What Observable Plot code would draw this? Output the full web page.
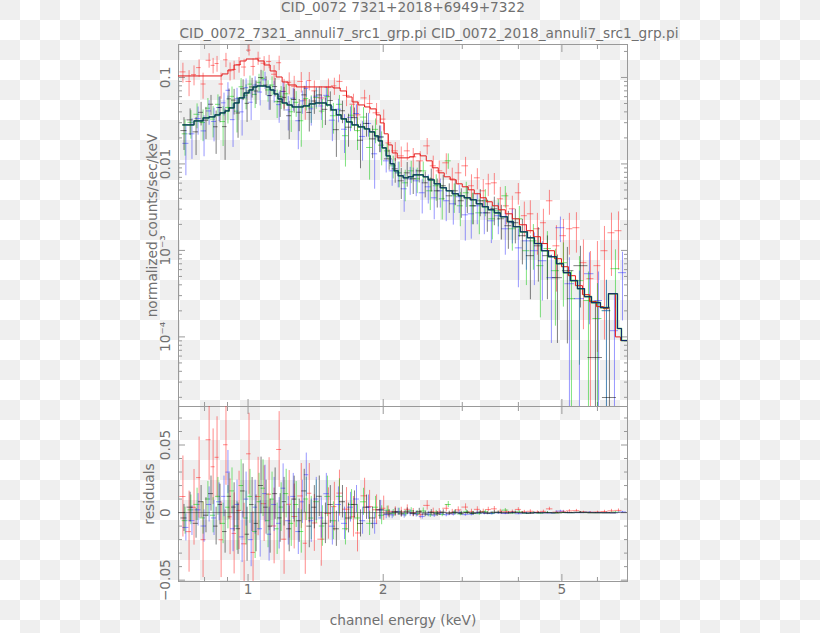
<!DOCTYPE html>
<html><head><meta charset="utf-8">
<script src="https://cdn.jsdelivr.net/npm/d3@7"></script>
<script src="https://cdn.jsdelivr.net/npm/@observablehq/plot@0.6"></script>
<style>
html,body{margin:0;padding:0;}
body{width:820px;height:633px;overflow:hidden;background:repeating-conic-gradient(#ffffff 0% 25%, #efefef 0% 50%) 0 0/40px 40px;}
#wrap{position:relative;width:820px;height:633px;}
#wrap svg{position:absolute;left:0;top:0;}
</style></head><body><div id="wrap"></div>
<script>
// ---------------- titles / labels ----------------
const title1 = "CID_0072 7321+2018+6949+7322";
const title2 = "CID_0072_7321_annuli7_src1_grp.pi CID_0072_2018_annuli7_src1_grp.pi";
const yLabelTop = "normalized counts/sec/keV";
const yLabelBottom = "residuals";
const xLabel = "channel energy (keV)";

// ---------------- axis ticks ----------------
const X_DOMAIN = [0.7, 7.0];
const Y_DOMAIN = [1.567e-5, 0.2405];
const R_DOMAIN = [-0.051, 0.0785];
const xMajor = [1, 2, 5];
const xMajorLabels = ["1", "2", "5"];
const xMinor = [0.8, 0.9, 3, 4, 6];
const yMajor = [1e-4, 1e-3, 0.01, 0.1];
const yMajorLabels = ["10\u207B\u2074", "10\u207B\u00B3", "0.01", "0.1"];
const yMinor = [2e-5,3e-5,4e-5,5e-5,6e-5,7e-5,8e-5,9e-5,
  2e-4,3e-4,4e-4,5e-4,6e-4,7e-4,8e-4,9e-4,
  2e-3,3e-3,4e-3,5e-3,6e-3,7e-3,8e-3,9e-3,
  0.02,0.03,0.04,0.05,0.06,0.07,0.08,0.09,0.2];
const rMajor = [-0.05, 0, 0.05];
const rMajorLabels = ["\u22120.05", "0", "0.05"];
const rMinor = [-0.04,-0.03,-0.02,-0.01,0.01,0.02,0.03,0.04,0.06,0.07];

// ---------------- models (step, bin start energies) ----------------
const redModelE = [0.699,0.875,0.902,0.931,0.960,0.990,1.053,1.086,1.120,1.155,1.191,1.228,1.280,1.547,1.604,1.657,1.705,1.759,1.818,1.871,1.929,1.970,2.010,2.052,2.095,2.149,2.286,2.345,2.418,2.494,2.572,2.652,2.735,2.820,2.909,3.000,3.094,3.190,3.290,3.393,3.499,3.609,3.741,3.878,4.021,4.168,4.320,4.479,4.643,4.813,4.989,5.170,5.360,5.556,5.759,5.970,6.188,6.350,6.580,6.752,7.0];
const redModelV = [0.1041,0.1098,0.1221,0.1394,0.1551,0.1635,0.1551,0.1394,0.1189,0.1013,0.0887,0.0819,0.0777,0.0756,0.0698,0.0595,0.0521,0.0481,0.0456,0.0433,0.0369,0.0298,0.0223,0.0166,0.0134,0.01176,0.01208,0.01308,0.0124,0.01086,0.00902,0.00789,0.0071,0.00655,0.00589,0.00544,0.00502,0.00452,0.00406,0.00365,0.00328,0.00295,0.00265,0.00232,0.00198,0.00169,0.00144,0.0012,0.000992,0.000802,0.000648,0.00051,0.000391,0.000308,0.000256,0.000224,0.000212,0.000316,0.0001,0.0000907,0.0000907];
const gbkModelE = [0.716,0.758,0.794,0.819,0.844,0.866,0.889,0.907,0.931,0.955,0.980,1.005,1.026,1.047,1.075,1.097,1.120,1.143,1.166,1.191,1.222,1.254,1.286,1.327,1.369,1.411,1.456,1.494,1.531,1.573,1.612,1.657,1.705,1.759,1.818,1.865,1.914,1.950,1.990,2.031,2.073,2.116,2.160,2.216,2.274,2.333,2.393,2.456,2.519,2.598,2.680,2.764,2.850,2.939,3.031,3.126,3.224,3.325,3.428,3.536,3.646,3.780,3.898,4.041,4.189,4.342,4.501,4.667,4.862,5.040,5.224,5.416,5.614,5.819,6.093,6.350,6.648,6.786,7.0];
const gbkModelV = [0.02828,0.03146,0.03405,0.03497,0.0369,0.03891,0.04104,0.04446,0.05075,0.05799,0.06622,0.07174,0.0777,0.07976,0.07976,0.0777,0.07174,0.06449,0.05645,0.05075,0.04812,0.04563,0.04563,0.04687,0.04943,0.05075,0.05075,0.04812,0.04214,0.0369,0.03317,0.03062,0.02828,0.02683,0.02542,0.02348,0.02111,0.01848,0.01534,0.0124,0.01003,0.00832,0.00729,0.00691,0.0071,0.00748,0.00748,0.0071,0.00655,0.00589,0.0053,0.00489,0.00452,0.00428,0.00406,0.00385,0.00346,0.0032,0.00295,0.00272,0.00245,0.00215,0.00188,0.00164,0.0014,0.0012,0.000992,0.000846,0.000702,0.000553,0.000447,0.000361,0.000292,0.000249,0.000218,0.000316,0.000125,0.0000907,0.0000907];

// ---------------- data: red ----------------
const redE = [0.716,0.739,0.758,0.778,0.794,0.819,0.836,0.853,0.871,0.893,0.912,0.931,0.955,0.980,1.005,1.026,1.053,1.086,1.114,1.143,1.173,1.203,1.235,1.267,1.314,1.341,1.369,1.405,1.456,1.510,1.557,1.598,1.657,1.717,1.753,1.818,1.865,1.933,2.005,
  2.052,2.128,2.194,2.263,2.333,2.418,2.506,2.585,2.666,2.764,2.850,2.939,3.051,3.145,3.241,3.341,3.428,3.536,3.646,3.760,3.878,3.999,4.124,4.253,4.410,4.548,4.690,4.862,5.040,5.196,5.387,5.584,5.788,6.000,6.220,6.448,6.683];
const redV = [0.116,0.090,0.108,0.130,0.084,0.158,0.138,0.145,0.084,0.160,0.119,0.124,0.141,0.132,0.207,0.134,0.167,0.146,0.153,0.109,0.148,0.069,0.088,0.079,0.090,0.055,0.092,0.070,0.058,0.077,0.080,0.090,0.062,0.049,0.037,0.058,0.050,0.039,0.033,
  0.01752,0.01417,0.0124,0.01417,0.01208,0.01086,0.01618,0.00951,0.00832,0.0103,0.00673,0.00789,0.00951,0.00559,0.00691,0.00489,0.00589,0.00605,0.00395,0.00328,0.00303,0.00464,0.00252,0.00265,0.00178,0.00209,0.00375,0.00113,0.00148,0.00178,0.00183,0.000721,0.000471,0.000666,0.000992,0.0016,0.00169];
const redErr = [0.030,0.030,0.028,0.030,0.028,0.030,0.028,0.030,0.028,0.030,0.028,0.030,0.029,0.030,0.030,0.030,0.029,0.028,0.027,0.028,0.028,0.026,0.025,0.024,0.024,0.023,0.022,0.021,0.020,0.019,0.018,0.017,0.016,0.015,0.014,0.013,0.012,0.011,0.009,
  0.004,0.0035,0.0033,0.0033,0.003,0.003,0.0035,0.0028,0.0025,0.0028,0.0022,0.0022,0.0024,0.0019,0.0019,0.0017,0.0017,0.0017,0.0014,0.0013,0.0012,0.0013,0.0011,0.0011,0.0009,0.0009,0.0012,0.0008,0.0008,0.0009,0.0009,0.0006,0.0005,0.0006,0.0009,0.0011,0.0011];

// ---------------- data: green ----------------
const greenE = [0.724,0.746,0.770,0.794,0.814,0.836,0.857,0.880,0.902,0.921,0.945,0.965,0.990,1.010,1.037,1.058,1.080,1.108,1.131,1.161,1.185,1.216,1.248,1.280,1.314,1.348,1.383,1.419,1.464,1.502,1.549,1.598,1.648,1.700,1.753,1.808,1.865,1.923,1.984,
  2.041,2.105,2.171,2.239,2.309,2.381,2.456,2.546,2.625,2.707,2.792,2.879,2.970,3.062,3.158,3.274,3.376,3.500,3.609,3.741,3.878,4.020,4.168,4.320,4.478,4.642,4.837,5.039,5.251,5.471,5.730,6.001,6.284,6.581];
const greenV = [0.0223,0.0303,0.0375,0.0301,0.0441,0.0330,0.0489,0.0309,0.0450,0.0605,0.0408,0.0780,0.0622,0.0837,0.0637,0.0878,0.0978,0.0717,0.0817,0.0525,0.0605,0.0648,0.0401,0.0516,0.0316,0.0569,0.0454,0.0588,0.0408,0.0601,0.0361,0.0489,0.0212,0.0366,0.0243,0.0348,0.0155,0.0251,0.0165,
  0.01417,0.00951,0.00789,0.00605,0.00832,0.00673,0.00832,0.00489,0.00559,0.00395,0.01086,0.00428,0.00328,0.00464,0.00328,0.00272,0.00375,0.00232,0.00287,0.00428,0.00178,0.00232,0.000992,0.00129,0.000666,0.00105,0.000583,0.000721,0.000277,0.000447,0.000263,0.000163,0.000201,0.000615];
const greenErr = [0.010,0.011,0.012,0.012,0.013,0.013,0.014,0.015,0.016,0.017,0.018,0.019,0.020,0.020,0.020,0.021,0.021,0.020,0.020,0.019,0.018,0.018,0.017,0.017,0.016,0.016,0.016,0.016,0.015,0.015,0.014,0.013,0.012,0.011,0.010,0.010,0.009,0.008,0.007,
  0.003,0.0028,0.0026,0.0024,0.0024,0.0022,0.0022,0.002,0.0019,0.0017,0.0022,0.0016,0.0014,0.0015,0.0013,0.0012,0.0013,0.001,0.001,0.0012,0.0008,0.0009,0.0006,0.0007,0.0005,0.0006,0.00045,0.0005,0.0003,0.0004,0.0003,0.00025,0.00025,0.0004];

// ---------------- data: blue ----------------
const blueE = [0.727,0.750,0.774,0.798,0.819,0.840,0.862,0.884,0.902,0.926,0.945,0.970,0.990,1.016,1.037,1.064,1.091,1.114,1.143,1.173,1.197,1.229,1.261,1.294,1.321,1.348,1.383,1.419,1.456,1.494,1.541,1.590,1.640,1.691,1.744,1.799,1.855,1.914,1.974,
  2.031,2.094,2.160,2.227,2.297,2.369,2.443,2.520,2.598,2.680,2.763,2.865,2.954,3.047,3.142,3.240,3.359,3.482,3.609,3.741,3.878,4.000,4.168,4.342,4.524,4.738,4.962,5.197,5.471,5.759,6.031,6.284,6.547,6.822];
const blueV = [0.0173,0.0223,0.0335,0.0241,0.0410,0.0310,0.0449,0.0509,0.0710,0.0325,0.0568,0.0400,0.0762,0.0517,0.0817,0.0678,0.0938,0.0617,0.0705,0.0485,0.0688,0.0421,0.0576,0.0316,0.0536,0.0749,0.0434,0.0608,0.0468,0.0621,0.0321,0.0429,0.0252,0.0346,0.0383,0.0208,0.0294,0.0131,0.0205,
  0.01086,0.00832,0.00789,0.00516,0.00673,0.00638,0.00464,0.00544,0.00406,0.00489,0.00375,0.00346,0.00417,0.00258,0.00265,0.00328,0.00272,0.0022,0.00252,0.00178,0.00209,0.00107,0.00129,0.000992,0.00076,0.000484,0.00183,0.000412,0.000277,0.000538,0.000263,0.000201,0.000118,0.000553];
const blueErr = [0.010,0.011,0.012,0.012,0.013,0.013,0.014,0.015,0.016,0.017,0.018,0.019,0.020,0.020,0.020,0.021,0.021,0.020,0.020,0.019,0.018,0.018,0.017,0.017,0.016,0.016,0.016,0.016,0.015,0.015,0.014,0.013,0.012,0.011,0.010,0.010,0.009,0.008,0.007,
  0.003,0.0028,0.0026,0.0024,0.0024,0.0022,0.002,0.002,0.0018,0.0018,0.0016,0.0015,0.0015,0.0013,0.0013,0.0013,0.0012,0.001,0.001,0.0009,0.0009,0.0007,0.0007,0.0006,0.0005,0.0004,0.0006,0.00041,0.0003,0.0004,0.0003,0.00025,0.0002,0.0004];

// ---------------- data: black ----------------
const blackE = [0.720,0.743,0.766,0.786,0.806,0.827,0.849,0.866,0.889,0.907,0.931,0.950,0.975,0.995,1.021,1.042,1.069,1.097,1.120,1.149,1.179,1.203,1.235,1.267,1.300,1.334,1.369,1.405,1.441,1.487,1.525,1.573,1.623,1.674,1.726,1.780,1.836,1.894,1.964,
  2.062,2.127,2.194,2.262,2.333,2.406,2.481,2.559,2.639,2.721,2.806,2.894,2.985,3.078,3.174,3.290,3.411,3.536,3.666,3.800,3.938,4.083,4.254,4.432,4.642,4.887,5.143,5.499,5.939,6.381];
const blackV = [0.0243,0.0323,0.0235,0.0395,0.0321,0.0490,0.0269,0.0449,0.0270,0.0565,0.0548,0.0388,0.0740,0.0502,0.0777,0.0697,0.0998,0.0817,0.0617,0.0785,0.0525,0.0588,0.0361,0.0556,0.0396,0.0629,0.0394,0.0534,0.0628,0.0428,0.0541,0.0249,0.0412,0.0266,0.0343,0.0188,0.0294,0.0195,0.0205,
  0.01145,0.00878,0.00638,0.00789,0.00673,0.00832,0.00605,0.00673,0.00489,0.00559,0.00428,0.00489,0.00375,0.00406,0.00328,0.00375,0.00272,0.00303,0.00232,0.00193,0.00209,0.00148,0.000869,0.00113,0.000869,0.000484,0.000583,0.000666,0.0000577,0.0000199];
const blackErr = [0.010,0.011,0.011,0.012,0.013,0.013,0.014,0.015,0.016,0.017,0.018,0.019,0.020,0.020,0.020,0.021,0.021,0.020,0.020,0.019,0.018,0.018,0.017,0.017,0.016,0.016,0.016,0.016,0.015,0.015,0.014,0.013,0.012,0.011,0.010,0.010,0.009,0.008,0.007,
  0.003,0.0028,0.0025,0.0025,0.0023,0.0023,0.002,0.002,0.0018,0.0018,0.0016,0.0016,0.0014,0.0014,0.0013,0.0013,0.0011,0.0011,0.001,0.0009,0.0009,0.0008,0.0006,0.0007,0.0006,0.0004,0.0005,0.00045,0.0002,0.0002];

// ---------------- build tables ----------------
function stepAt(mE, mV, e) {
  let k = 0;
  for (let i = 0; i < mE.length; i++) if (mE[i] <= e + 1e-9) k = i;
  return mV[k];
}
function buildRows(E, V, ERR, mE, mV) {
  return E.map((e, i) => {
    const prev = i > 0 ? E[i - 1] : e * e / E[i + 1];
    const next = i < E.length - 1 ? E[i + 1] : e * e / E[i - 1];
    return {E: e, lo: Math.sqrt(prev * e), hi: Math.sqrt(e * next), v: V[i], e: ERR[i], r: V[i] - stepAt(mE, mV, e)};
  });
}
const modelRows = (E, V) => E.map((e, i) => ({E: e, v: V[i]}));

const sets = [
  {rows: buildRows(redE, redV, redErr, redModelE, redModelV), color: "#ff1a1a", op: 0.5},
  {rows: buildRows(greenE, greenV, greenErr, gbkModelE, gbkModelV), color: "#00c800", op: 0.5},
  {rows: buildRows(blueE, blueV, blueErr, gbkModelE, gbkModelV), color: "#1a1aff", op: 0.45},
  {rows: buildRows(blackE, blackV, blackErr, gbkModelE, gbkModelV), color: "#000000", op: 0.5}
];
const redModel = modelRows(redModelE, redModelV);
const gbkModel = modelRows(gbkModelE, gbkModelV);

// ---------------- style ----------------
const W = 820, H = 633, ML = 178, MR = 193;
const FONT = "DejaVu Sans", FS = 13.7, TXT = "#707070", TICK = "#999999";
const txt = (s, o) => Plot.text([s], {text: d => d, fill: TXT, fontSize: FS, fontFamily: FONT, textAnchor: "middle", ...o});
const tx = (vals, size, anchor) => Plot.axisX(vals, {anchor, tickSize: -size, fill: "none", label: null, stroke: TICK});
const ty = (vals, size, anchor) => Plot.axisY(vals, {anchor, tickSize: -size, fill: "none", label: null, stroke: TICK});

// ---------------- upper panel ----------------
const upperMarks = [
  Plot.frame({stroke: TICK, strokeWidth: 1}),
  tx(xMajor, 7, "bottom"), tx(xMinor, 4, "bottom"), tx(xMajor, 7, "top"), tx(xMinor, 4, "top"),
  ty(yMajor, 7, "left"), ty(yMinor, 4, "left"), ty(yMajor, 7, "right"), ty(yMinor, 4, "right")
];
for (const s of sets) {
  upperMarks.push(
    Plot.ruleX(s.rows, {x: "E", y1: d => Math.max(d.v - d.e, Y_DOMAIN[0]), y2: d => d.v + d.e, stroke: s.color, strokeOpacity: s.op, strokeWidth: 1, clip: true}),
    Plot.ruleY(s.rows, {y: "v", x1: "lo", x2: "hi", stroke: s.color, strokeOpacity: s.op, strokeWidth: 1, clip: true})
  );
}
upperMarks.push(
  Plot.line(redModel, {x: "E", y: "v", curve: "step-after", stroke: "#e41a1a", strokeWidth: 1, clip: true}),
  Plot.line(gbkModel, {x: "E", y: "v", curve: "step-after", stroke: "#00b000", strokeWidth: 1.6, strokeOpacity: 0.7, clip: true}),
  Plot.line(gbkModel, {x: "E", y: "v", curve: "step-after", stroke: "#1a3aa8", strokeWidth: 1, clip: true}),
  Plot.line(gbkModel, {x: "E", y: "v", curve: "step-after", stroke: "#000000", strokeWidth: 0.6, strokeOpacity: 0.6, clip: true}),
  Plot.text(yMajor, {y: d => d, text: (d, i) => yMajorLabels[i], frameAnchor: "left", textAnchor: "middle", dx: -13, rotate: -90, fill: TXT, fontSize: FS, fontFamily: FONT}),
  txt(yLabelTop, {frameAnchor: "left", dx: -26, rotate: -90}),
  txt(title1, {frameAnchor: "top", lineAnchor: "bottom", dy: -33, dx: 0}),
  txt(title2, {frameAnchor: "top", lineAnchor: "bottom", dy: -6.5, dx: 26})
);
const upper = Plot.plot({
  width: W, height: H, marginTop: 44, marginBottom: H - 406, marginLeft: ML, marginRight: MR,
  style: {background: "transparent", fontFamily: FONT},
  x: {type: "log", domain: X_DOMAIN, axis: null},
  y: {type: "log", domain: Y_DOMAIN, axis: null},
  marks: upperMarks
});

// ---------------- lower panel ----------------
const lowerMarks = [
  Plot.frame({stroke: TICK, strokeWidth: 1}),
  tx(xMajor, 7, "bottom"), tx(xMinor, 4, "bottom"), tx(xMajor, 7, "top"), tx(xMinor, 4, "top"),
  ty(rMajor, 7, "left"), ty(rMinor, 4, "left"), ty(rMajor, 7, "right"), ty(rMinor, 4, "right")
];
for (const s of sets) {
  lowerMarks.push(
    Plot.ruleX(s.rows, {x: "E", y1: d => d.r - d.e, y2: d => d.r + d.e, stroke: s.color, strokeOpacity: s.op, strokeWidth: 1, clip: true}),
    Plot.ruleY(s.rows, {y: "r", x1: "lo", x2: "hi", stroke: s.color, strokeOpacity: s.op, strokeWidth: 1, clip: true})
  );
}
lowerMarks.push(
  Plot.ruleY([0], {stroke: "#222222", strokeWidth: 0.8, strokeOpacity: 0.6}),
  Plot.text(rMajor, {y: d => d, text: (d, i) => rMajorLabels[i], frameAnchor: "left", textAnchor: "middle", dx: -13, rotate: -90, fill: TXT, fontSize: FS, fontFamily: FONT}),
  Plot.text(xMajor, {x: d => d, text: (d, i) => xMajorLabels[i], frameAnchor: "bottom", textAnchor: "middle", dy: 12, fill: TXT, fontSize: FS, fontFamily: FONT}),
  txt(yLabelBottom, {frameAnchor: "left", dx: -29, rotate: -90}),
  txt(xLabel, {frameAnchor: "bottom", dy: 43.6})
);
const lower = Plot.plot({
  width: W, height: H, marginTop: 406, marginBottom: H - 581, marginLeft: ML, marginRight: MR,
  style: {background: "transparent", fontFamily: FONT},
  x: {type: "log", domain: X_DOMAIN, axis: null},
  y: {type: "linear", domain: R_DOMAIN, axis: null},
  marks: lowerMarks
});

const wrap = document.getElementById("wrap");
wrap.appendChild(upper);
wrap.appendChild(lower);
</script></body></html>
